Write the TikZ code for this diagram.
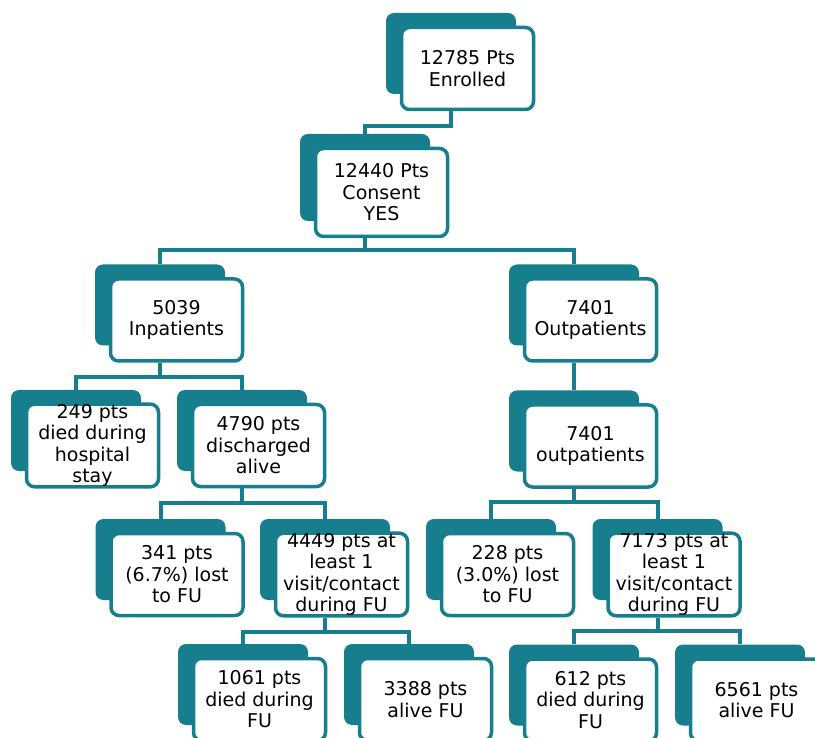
\documentclass[tikz,border=0pt]{standalone}
\usepackage{fontspec}
\setmainfont{DejaVu Sans}
\usetikzlibrary{calc,positioning,backgrounds}
\definecolor{cardteal}{RGB}{22,126,140}

\begin{document}
\begin{tikzpicture}[x=1pt, y=-1pt,
    every node/.style={rounded corners=8pt, inner sep=0pt, align=center,
      font=\fontsize{19}{21.5}\selectfont},
    card/.style={draw=cardteal, line width=3.5pt, fill=white,
      minimum width=132pt, minimum height=82pt},
    cardback/.style={fill=cardteal, minimum width=130pt, minimum height=81pt},
    link/.style={draw=cardteal, line width=4pt}]
    \useasboundingbox (0,0) rectangle (815,738);
    \clip (0,0) rectangle (815,738);

    % front cards
    \node[card] (enrolled) at (467.5,68.5) {12785 Pts\\Enrolled};
    \node[card, minimum height=88pt] (consent) at (381.5,192.5) {12440 Pts\\Consent\\YES};
    \node[card] (inpat) at (176.5,320) {5039\\Inpatients};
    \node[card] (outpat) at (590.5,320) {7401\\Outpatients};
    \node[card] (diedhosp) at (92.5,445.5) {249 pts\\died during\\hospital\\stay};
    \node[card] (discharged) at (258.5,445.5) {4790 pts\\discharged\\alive};
    \node[card] (outpattwo) at (590.5,446) {7401\\outpatients};
    \node[card] (lostin) at (177,574.5) {341 pts\\(6.7\%) lost\\to FU};
    \node[card] (visitin) at (341.5,574.5) {4449 pts at\\least 1\\visit/contact\\during FU};
    \node[card] (lostout) at (507.5,574.5) {228 pts\\(3.0\%) lost\\to FU};
    \node[card] (visitout) at (674,574.5) {7173 pts at\\least 1\\visit/contact\\during FU};
    \node[card] (diedin) at (259.5,699.5) {1061 pts\\died during\\FU};
    \node[card] (alivein) at (425.5,699.5) {3388 pts\\alive FU};
    \node[card] (diedout) at (590.5,700) {612 pts\\died during\\FU};
    \node[card] (aliveout) at (756.5,700) {6561 pts\\alive FU};

    % teal backs behind the cards
    \begin{scope}[on background layer]
      \node[cardback] (enrolledS) at ($(enrolled)+(-16.5,-15)$) {};
      \node[cardback, minimum height=87pt] (consentS) at ($(consent)+(-16.5,-15)$) {};
      \node[cardback] (inpatS) at ($(inpat)+(-16.5,-15)$) {};
      \node[cardback] (outpatS) at ($(outpat)+(-16.5,-15)$) {};
      \node[cardback] (diedhospS) at ($(diedhosp)+(-16.5,-15)$) {};
      \node[cardback] (dischargedS) at ($(discharged)+(-16.5,-15)$) {};
      \node[cardback] (outpattwoS) at ($(outpattwo)+(-16.5,-15)$) {};
      \node[cardback] (lostinS) at ($(lostin)+(-16.5,-15)$) {};
      \node[cardback] (visitinS) at ($(visitin)+(-16.5,-15)$) {};
      \node[cardback] (lostoutS) at ($(lostout)+(-16.5,-15)$) {};
      \node[cardback] (visitoutS) at ($(visitout)+(-16.5,-15)$) {};
      \node[cardback] (diedinS) at ($(diedin)+(-16.5,-15)$) {};
      \node[cardback] (aliveinS) at ($(alivein)+(-16.5,-15)$) {};
      \node[cardback] (diedoutS) at ($(diedout)+(-16.5,-15)$) {};
      \node[cardback] (aliveoutS) at ($(aliveout)+(-16.5,-15)$) {};
    \end{scope}

    % connectors
    \draw[link] (enrolledS.north |- enrolled.south) -- ++(0,15) -| (consentS.north);
    \draw[link] (consentS.north |- consent.south) -- ++(0,12) coordinate (splitA);
    \draw[link] (inpatS.north) |- (splitA) -| (outpatS.north);
    \draw[link] (inpatS.north |- inpat.south) -- ++(0,14) coordinate (splitB);
    \draw[link] (diedhospS.north) |- (splitB) -| (dischargedS.north);
    \draw[link] (outpatS.north |- outpat.south) -- (outpattwoS.north);
    \draw[link] (dischargedS.north |- discharged.south) -- ++(0,15) coordinate (splitC);
    \draw[link] (lostinS.north) |- (splitC) -| (visitinS.north);
    \draw[link] (outpattwoS.north |- outpattwo.south) -- ++(0,13) coordinate (splitD);
    \draw[link] (lostoutS.north) |- (splitD) -| (visitoutS.north);
    \draw[link] (visitinS.north |- visitin.south) -- ++(0,14) coordinate (splitE);
    \draw[link] (diedinS.north) |- (splitE) -| (aliveinS.north);
    \draw[link] (visitoutS.north |- visitout.south) -- ++(0,13) coordinate (splitF);
    \draw[link] (diedoutS.north) |- (splitF) -| (aliveoutS.north);
\end{tikzpicture}
\end{document}
